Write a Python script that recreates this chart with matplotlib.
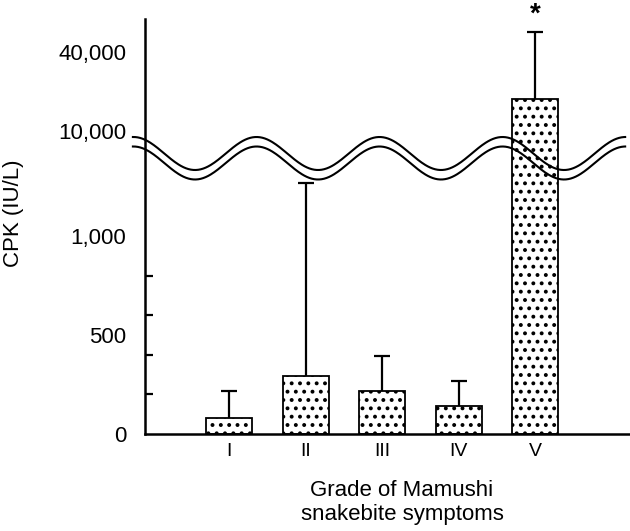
import matplotlib
matplotlib.use('Agg')
import matplotlib.pyplot as plt
import numpy as np

plt.rcParams['font.family'] = ['Liberation Sans', 'DejaVu Sans']
plt.rcParams['hatch.linewidth'] = 1.6

grades = ['I', 'II', 'III', 'IV', 'V']
cpk_mean = [81, 293, 217, 141, 17500]
cpk_sd = [136, 975, 177, 127, 39500]

ytick_vals = [0, 500, 1000, 10000, 40000]
ytick_labels = ['0', '500', '1,000', '10,000', '40,000']
ytick_marks = [200, 400, 600, 800, 1000, 10000, 40000]

# broken scale: linear below the break, log above it
K = 0.198
LO, HI = 1400.0, 6400.0

def lin_part(v):
    return v * K

def log_part(v):
    return 303 + 131 * np.log10(np.maximum(v, 1e-9) / 1e4)

def fwd(v):
    v = np.asarray(v, dtype=float)
    a, b = lin_part(LO), log_part(HI)
    mid = a + (v - LO) / (HI - LO) * (b - a)
    return np.where(v <= LO, lin_part(v), np.where(v >= HI, log_part(v), mid))

def inv(y):
    y = np.asarray(y, dtype=float)
    a, b = lin_part(LO), log_part(HI)
    mid = LO + (y - a) / (b - a) * (HI - LO)
    up = 1e4 * 10 ** ((y - 303) / 131)
    return np.where(y <= a, y / K, np.where(y >= b, up, mid))

fig = plt.figure(figsize=(6.3, 5.31), dpi=100)
ax = fig.add_axes([0.2302, 0.1827, 0.7698, 0.7815])
ax.set_yscale('function', functions=(fwd, inv))

x = np.arange(1, len(grades) + 1)
ax.bar(x, cpk_mean, width=0.6, color='white', edgecolor='black',
       linewidth=1.3, hatch='..', zorder=2)
eb = ax.errorbar(x, cpk_mean, yerr=[np.zeros(len(x)), cpk_sd], fmt='none',
                 ecolor='black', elinewidth=1.6, capsize=5.5, capthick=1.6, zorder=1)
eb[1][0].set_visible(False)

ax.annotate('*', xy=(x[-1], cpk_mean[-1] + cpk_sd[-1]), xytext=(0, 3),
            textcoords='offset points', ha='center', va='bottom',
            fontsize=20, fontweight='bold')

ax.set_xlim(-0.1, 6.24)
ax.set_ylim(0, 71700)

ax.set_yticks(ytick_vals)
ax.set_yticklabels(ytick_labels)
ax.set_yticks(ytick_marks, minor=True)
ax.tick_params(axis='y', which='major', length=0, pad=13.5, labelsize=16)
ax.tick_params(axis='y', which='minor', direction='in', length=6, width=1.6)
ax.set_xticks(x)
ax.set_xticklabels(grades)
ax.tick_params(axis='x', length=0, pad=6.5, labelsize=14)

for s in ['top', 'right']:
    ax.spines[s].set_visible(False)
for s in ['left', 'bottom']:
    ax.spines[s].set_linewidth(1.8)

# wavy break marks
wx = np.linspace(-0.025, 0.99, 400)
px = 145 + wx * 485
wave = np.cos(2 * np.pi * (px - 195) / 123)
for c in [153.5, 163]:
    wy = (434 - (c + 16.5 * wave)) / 415
    ax.plot(wx, wy, color='black', lw=1.5, transform=ax.transAxes,
            clip_on=False, zorder=5)

ax.text(-0.272, 0.533, 'CPK (IU/L)', transform=ax.transAxes, rotation=90,
        ha='center', va='center', fontsize=16)
ax.text(0.530, -0.166, 'Grade of Mamushi\nsnakebite symptoms', transform=ax.transAxes,
        ha='center', va='center', fontsize=16, linespacing=1.2)

plt.savefig('out.png', dpi=100)
